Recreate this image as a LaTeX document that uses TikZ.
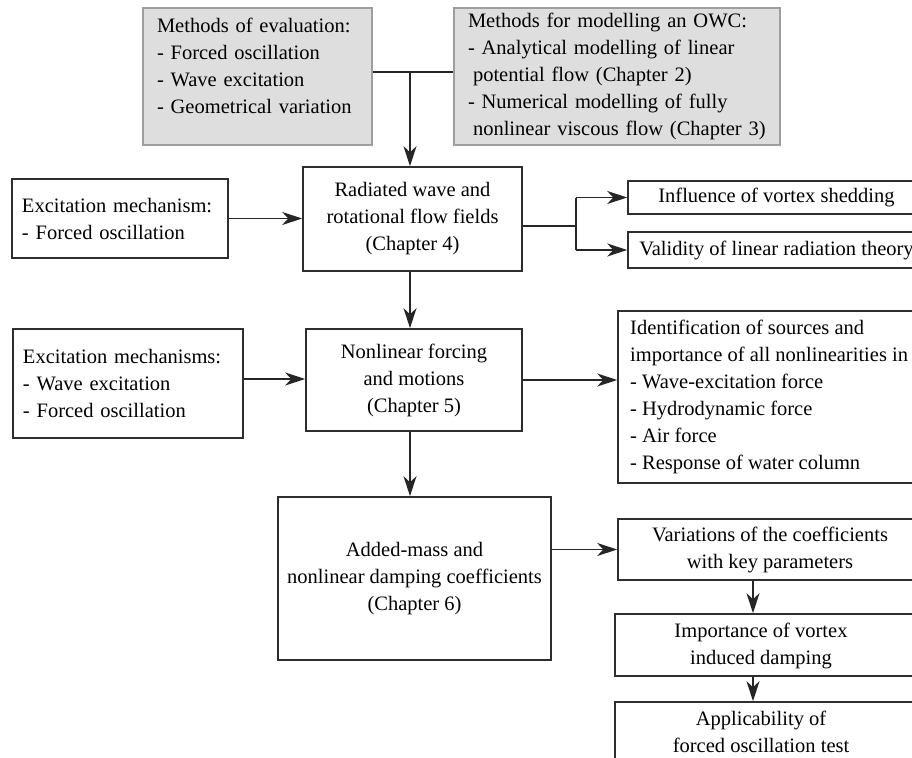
\documentclass[tikz,border=0pt]{standalone}
\usepackage{fontspec}
\setmainfont{Liberation Serif}
\usetikzlibrary{arrows.meta,calc}
\begin{document}
\begin{tikzpicture}[x=1bp,y=-1bp,
  every node/.style={font=\fontsize{20.5bp}{27bp}\selectfont, text=black},
  box/.style={draw=black!82, line width=1.6bp, rectangle, inner sep=0pt, fill=white},
  gbox/.style={draw=black!38, line width=1.6bp, fill=black!13, rectangle, inner ysep=0pt, align=left},
  cbox/.style={box, align=center},
  lbox/.style={box, align=left},
  lbl/.style={inner sep=0pt, align=center},
  conn/.style={draw=black!85, line width=1.4bp},
  arr/.style={conn, -{Stealth[length=20bp,width=13bp,inset=6bp]}},
]
\useasboundingbox (0,0) rectangle (912,758);
\clip (0,0) rectangle (912,758);

% top grey boxes
\node[gbox, minimum width=229bp, minimum height=137bp, text width=201bp, inner xsep=14bp] (eval) at (257.5,76.5)
  {Methods of evaluation:\\- Forced oscillation\\- Wave excitation\\- Geometrical variation\\[-5bp]\mbox{}};
\node[gbox, minimum width=326bp, minimum height=137bp, text width=298bp, inner xsep=14bp] (owc) at (617,76.5)
  {\mbox{Methods for modelling an OWC:}\\\mbox{- Analytical modelling of linear}\\\mbox{\hspace*{5bp}potential flow (Chapter 2)}\\\mbox{- Numerical modelling of fully}\\\mbox{\hspace*{5bp}nonlinear viscous flow (Chapter 3)}};

% main column
\node[cbox, minimum width=219bp, minimum height=104bp] (rad) at (412.5,219)
  {Radiated wave and\\rotational flow fields\\(Chapter 4)};
\node[cbox, minimum width=216bp, minimum height=102bp] (nonlin) at (414,380)
  {Nonlinear forcing\\and motions\\(Chapter 5)};
\node[cbox, minimum width=273bp, minimum height=163bp] (added) at (414.5,578.5)
  {Added-mass and\\nonlinear damping coefficients\\(Chapter 6)};

% left inputs
\node[lbox, text width=196bp, inner xsep=10bp, minimum height=79bp] (exc1) at (120,218.5)
  {Excitation mechanism:\\- Forced oscillation};
\node[lbox, text width=210bp, inner xsep=10bp, minimum height=109bp] (exc2) at (128,383.5)
  {Excitation mechanisms:\\- Wave excitation\\- Forced oscillation};

% right outputs
\node[cbox, minimum width=297bp, minimum height=33bp] (infl) at (776.5,197.5) {Influence of vortex shedding};
\node[cbox, minimum width=297bp, minimum height=36bp] (valid) at (776.5,250) {Validity of linear radiation theory};
\node[box, minimum width=317bp, minimum height=172bp] (ident) at (776.5,397) {};
\node[lbl, align=left, anchor=west] (identt) at (630,397)
  {Identification of sources and\\importance of all nonlinearities in\\- Wave-excitation force\\- Hydrodynamic force\\- Air force\\- Response of water column};
\node[cbox, minimum width=304bp, minimum height=61bp] (var) at (770,549.5)
  {Variations of the coefficients\\with key parameters};
\node[box, minimum width=320bp, minimum height=62bp] (imp) at (775,645) {};
\node[lbl] (impt) at (761,646) {Importance of vortex\\induced damping};
\node[box, minimum width=320bp, minimum height=88bp] (app) at (775,746) {};
\node[lbl] (appt) at (761,731.5) {Applicability of\\forced oscillation test};

% connectors
\coordinate (j) at (410,72);
\coordinate (fork) at (576,226);
\coordinate (v) at (753,0);
\coordinate (e2) at ([yshift=4.5bp]exc2.east);
\draw[conn] (eval.east |- j) -- (owc.west |- j);
\draw[arr] (j) -- (rad.north -| j);
\draw[arr] (exc1.east) -- (rad.west |- exc1.east);
\draw[conn] (rad.east |- fork) -- (fork);
\draw[conn] (fork |- infl.west) -- (fork |- valid.west);
\draw[arr] (fork |- infl.west) -- (infl.west);
\draw[arr] (fork |- valid.west) -- (valid.west);
\draw[arr] (rad.south -| j) -- (nonlin.north -| j);
\draw[arr] (e2) -- (nonlin.west |- e2);
\draw[arr] (nonlin.east) -- (ident.west |- nonlin.east);
\draw[arr] (nonlin.south -| j) -- (added.north -| j);
\draw[arr] (added.east |- var.west) -- (var.west);
\draw[arr] (var.south -| v) -- (imp.north -| v);
\draw[arr] (imp.south -| v) -- (app.north -| v);
\end{tikzpicture}
\end{document}
